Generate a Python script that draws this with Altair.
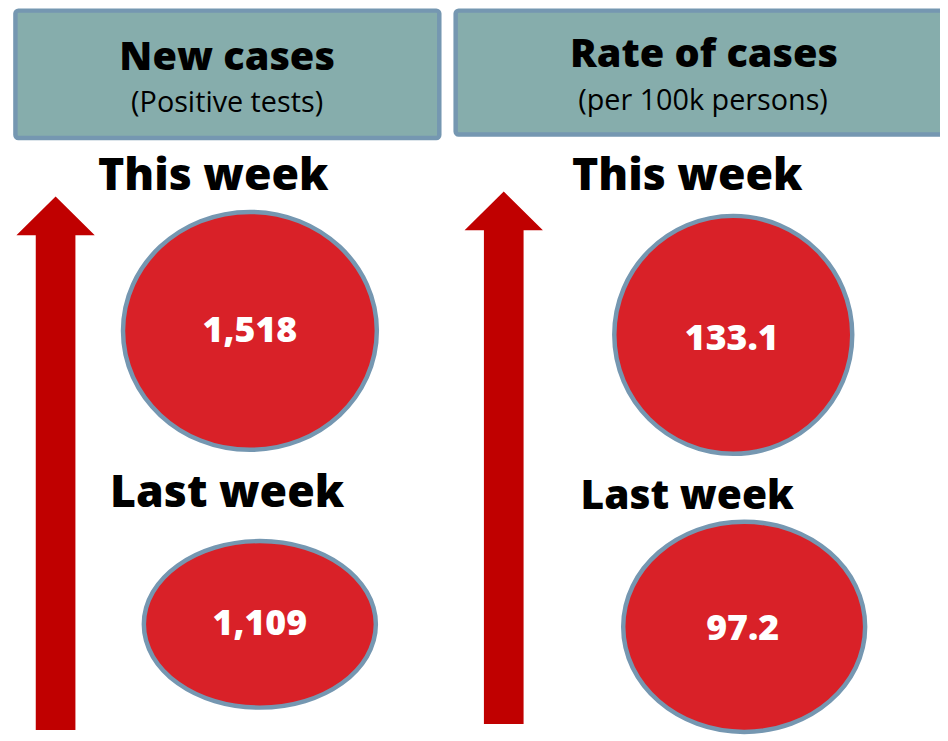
import altair as alt
import pandas as pd

# ---------------- data ----------------
metrics = ["New cases", "Rate of cases"]
subtitles = ["(Positive tests)", "(per 100k persons)"]
period_labels = ["This week", "Last week"]
this_week_values = [1518, 133.1]
last_week_values = [1109, 97.2]
value_formats = ["{:,.0f}", "{:.1f}"]

# ---------------- layout (reference pixel positions) ----------------
HEADER_BOX = [(15.5, 443, 7.5, 136), (459.5, 960, 7.5, 132.5)]
TITLE_POS = [(229, 67), (710, 64)]
SUB_POS = [(229, 110), (709, 108)]
THIS_LABEL_POS = [(215, 188), (693, 188)]
LAST_LABEL_POS = [(229, 508), (693, 510)]
THIS_ELLIPSE = [(252, 330.5, 128, 120), (739.5, 334.5, 120, 120)]
LAST_ELLIPSE = [(262, 626.5, 117, 84), (750.5, 629, 122, 106)]
THIS_NUM_POS = [(252, 342), (738, 350)]
LAST_NUM_POS = [(262, 637), (749, 642)]
ARROWS = [(56, 195, 733, 20, 39.5, 39), (508, 190, 727, 20, 39.5, 39)]

RED = "#d92128"
DARK_RED = "#c00000"
STEEL = "#7597b1"
TEAL = "#86adac"
FONT = "Open Sans"

W, H = 940, 733


def X(f="x"):
    return alt.X(f"{f}:Q", scale=alt.Scale(domain=[8, 948], range=[0, W], nice=False, zero=False), axis=None)


def Y(f="y"):
    return alt.Y(f"{f}:Q", scale=alt.Scale(domain=[8, 741], range=[0, H], nice=False, zero=False), axis=None)


def ellipse_path(rx, ry):
    R = max(rx, ry)
    a, b = rx / R, ry / R
    return (f"M{-a},0 A{a},{b} 0 1 1 {a},0 A{a},{b} 0 1 1 {-a},0 Z", (2 * R) ** 2)


def arrow_path(top, bottom, shaft_half, head_half, head_h):
    R = (bottom - top) / 2
    s, h, hb = shaft_half / R, head_half / R, -1 + head_h / R
    p = f"M0,-1 L{h},{hb} L{s},{hb} L{s},1 L{-s},1 L{-s},{hb} L{-h},{hb} Z"
    return p, (2 * R) ** 2


# header boxes
hdr = pd.DataFrame({
    "metric": metrics,
    "x": [b[0] for b in HEADER_BOX], "x2": [b[1] for b in HEADER_BOX],
    "y": [b[2] for b in HEADER_BOX], "y2": [b[3] for b in HEADER_BOX],
})
boxes = alt.Chart(hdr).mark_rect(fill=TEAL, stroke=STEEL, strokeWidth=4.5, cornerRadius=3).encode(
    x=X(), x2="x2:Q", y=Y(), y2="y2:Q")

titles = alt.Chart(pd.DataFrame({
    "t": metrics, "x": [p[0] for p in TITLE_POS], "y": [p[1] for p in TITLE_POS]})
).mark_text(font=FONT, fontSize=40, fontWeight=800, color="black", baseline="alphabetic", align="center").encode(
    x=X(), y=Y(), text="t:N")

subs = alt.Chart(pd.DataFrame({
    "t": subtitles, "x": [p[0] for p in SUB_POS], "y": [p[1] for p in SUB_POS]})
).mark_text(font=FONT, fontSize=29, fontWeight=400, color="black", baseline="alphabetic", align="center").encode(
    x=X(), y=Y(), text="t:N")

plabels = pd.DataFrame({
    "t": [period_labels[0]] * 2 + [period_labels[1]] * 2,
    "x": [p[0] for p in THIS_LABEL_POS] + [p[0] for p in LAST_LABEL_POS],
    "y": [p[1] for p in THIS_LABEL_POS] + [p[1] for p in LAST_LABEL_POS],
    "fs": [45, 45, 45, 41],
})
period_text = alt.Chart(plabels).mark_text(font=FONT, fontWeight=800, color="black", baseline="alphabetic", align="center").encode(
    x=X(), y=Y(), text="t:N", size=alt.Size("fs:Q", scale=None))

# arrows
arr_rows = []
for i, (cx, top, bottom, sh, hh, hhgt) in enumerate(ARROWS):
    p, s = arrow_path(top, bottom, sh, hh, hhgt)
    arr_rows.append({"metric": metrics[i], "x": cx, "y": (top + bottom) / 2, "shape": p, "s": s})
arrows = alt.Chart(pd.DataFrame(arr_rows)).mark_point(filled=True, fill=DARK_RED, opacity=1, strokeWidth=0).encode(
    x=X(), y=Y(), shape=alt.Shape("shape:N", scale=None), size=alt.Size("s:Q", scale=None))

# circles
ell_rows = []
for i in range(2):
    for (vals, geo, npos) in [(this_week_values, THIS_ELLIPSE, THIS_NUM_POS), (last_week_values, LAST_ELLIPSE, LAST_NUM_POS)]:
        cx, cy, rx, ry = geo[i]
        p, s = ellipse_path(rx, ry)
        ell_rows.append({"metric": metrics[i], "value": vals[i], "label": value_formats[i].format(vals[i]),
                         "x": cx, "y": cy, "shape": p, "s": s, "tx": npos[i][0], "ty": npos[i][1]})
ell = pd.DataFrame(ell_rows)
circles = alt.Chart(ell).mark_point(filled=True, fill=RED, stroke=STEEL, strokeWidth=4.5, opacity=1,
                                     fillOpacity=1, strokeOpacity=1).encode(
    x=X(), y=Y(), shape=alt.Shape("shape:N", scale=None), size=alt.Size("s:Q", scale=None))
nums = alt.Chart(ell).mark_text(font=FONT, fontSize=36, fontWeight=800, color="white", baseline="alphabetic", align="center").encode(
    x=X("tx"), y=Y("ty"), text="label:N")

chart = alt.layer(boxes, titles, subs, period_text, arrows, circles, nums).properties(
    width=W, height=H, padding=0, background="white",
    autosize=alt.AutoSizeParams(type="none")
).configure_view(stroke=None)

chart.save("out.html", embed_options={"renderer": "svg", "actions": False})
